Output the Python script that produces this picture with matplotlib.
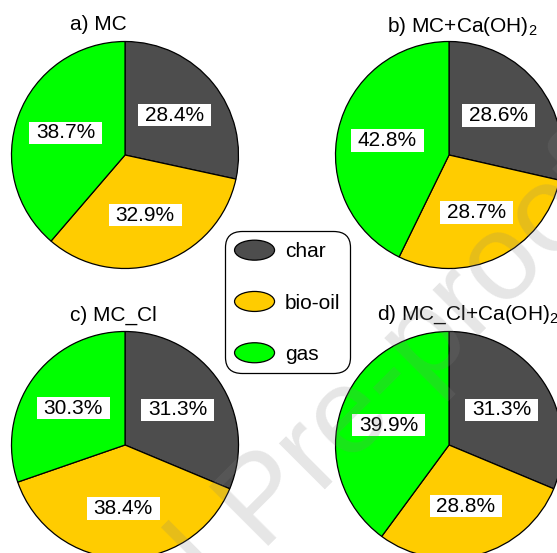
import matplotlib
matplotlib.use("Agg")
import matplotlib.pyplot as plt
from matplotlib.patches import Ellipse
from matplotlib.legend_handler import HandlerPatch
from matplotlib.path import Path

plt.rcParams['font.family'] = ['Liberation Sans', 'DejaVu Sans']
plt.rcParams['mathtext.default'] = 'regular'

# 生成物の収率 (%)
products = ["char", "bio-oil", "gas"]
colors = ["#4d4d4d", "#ffcc00", "#00ff00"]
titles = ["a) MC", "b) MC+Ca(OH)$_2$", "c) MC_Cl", "d) MC_Cl+Ca(OH)$_2$"]
yield_mc = [28.4, 32.9, 38.7]
yield_mc_ca = [28.6, 28.7, 42.8]
yield_mccl = [31.3, 38.4, 30.3]
yield_mccl_ca = [31.3, 28.8, 39.9]
all_yields = [yield_mc, yield_mc_ca, yield_mccl, yield_mccl_ca]

W, H = 557, 553
R = 113.5
# 各円グラフの中心 (px) とタイトルの左端 (px)
centers = [(125, 155), (449, 155), (125, 445), (449, 445)]
title_pos = [(70, 25), (387, 26), (70, 315), (377, 315)]


def label_box(x0, y0, width, height, mutation_size):
    # 横長の白い四角 (横と縦で余白を変える)
    px, py = 0.33 * mutation_size, 0.08 * mutation_size
    x0, y0 = x0 - px, y0 - py
    x1, y1 = x0 + width + 2 * px, y0 + height + 2 * py
    return Path([(x0, y0), (x1, y0), (x1, y1), (x0, y1), (x0, y0)], closed=True)


def make_ellipse(legend, orig_handle, xdescent, ydescent, width, height, fontsize):
    return Ellipse(xy=(0.5 * width - xdescent, 0.5 * height - ydescent),
                   width=width, height=height)


fig = plt.figure(figsize=(W / 100, H / 100), dpi=100)

handles = None
for (cx, cy), vals, title, (tx, ty) in zip(centers, all_yields, titles, title_pos):
    ax = fig.add_axes([(cx - R) / W, 1 - (cy + R) / H, 2 * R / W, 2 * R / H])
    wedges, _, autotexts = ax.pie(vals, colors=colors, startangle=90, counterclock=False,
                                  autopct='%.1f%%', pctdistance=0.56,
                                  wedgeprops=dict(edgecolor='black', linewidth=0.9),
                                  textprops=dict(fontsize=15, color='black'))
    for t, v in zip(autotexts, vals):
        t.set_text(f'{v:.1f}%')
        t.set_bbox(dict(boxstyle=label_box, fc='white', ec='none'))
    ax.set_xlim(-1.0, 1.0)
    ax.set_ylim(-1.0, 1.0)
    ax.set_aspect('equal')
    ax.axis('off')
    fig.text(tx / W, 1 - ty / H, title, fontsize=15, ha='left', va='center')
    if handles is None:
        handles = wedges

leg = fig.legend(handles, products, loc='center', bbox_to_anchor=(287.5 / W, 1 - 302 / H),
                 fontsize=15, handlelength=1.92, handleheight=1.1, handletextpad=0.5,
                 labelspacing=1.45, borderpad=0.45, fancybox=True, framealpha=1,
                 handler_map={wedges[0].__class__: HandlerPatch(patch_func=make_ellipse)})
frame = leg.get_frame()
frame.set_edgecolor('black')
frame.set_linewidth(0.9)
frame.set_boxstyle('round,pad=0,rounding_size=0.8')

# 透かし
fig.text(288 / W, 1 - 526 / H, 'Journal Pre-proof', rotation=45, rotation_mode='anchor',
         ha='center', va='baseline', fontsize=88, color='0.5', alpha=0.2, zorder=10)

fig.savefig('out.png', dpi=100)
